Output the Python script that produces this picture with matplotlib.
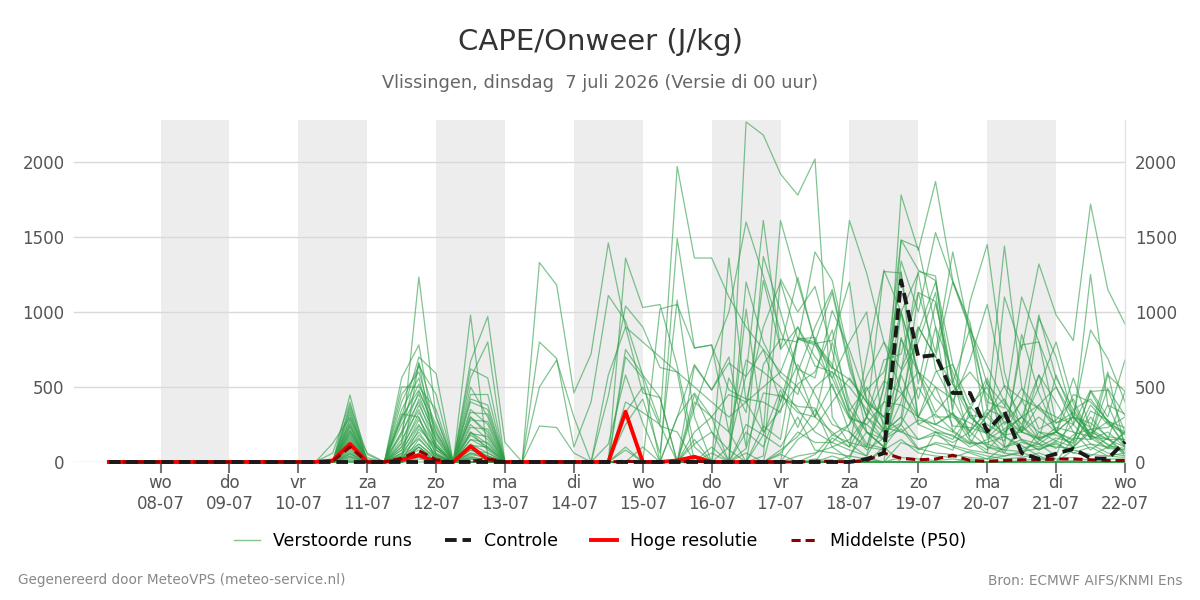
import matplotlib
matplotlib.use("Agg")
import matplotlib.pyplot as plt
from matplotlib.lines import Line2D
import pandas as pd

# 6-hourly steps, 7 Jul 06 UTC .. 22 Jul 00 UTC
times = pd.date_range("2026-07-07 06:00", periods=60, freq="6h")

tick_days = pd.date_range("2026-07-08", "2026-07-22", freq="D")
day_names = ["wo", "do", "vr", "za", "zo", "ma", "di", "wo", "do", "vr", "za", "zo", "ma", "di", "wo"]
day_dates = ["08-07", "09-07", "10-07", "11-07", "12-07", "13-07", "14-07", "15-07",
             "16-07", "17-07", "18-07", "19-07", "20-07", "21-07", "22-07"]
shade_days = ["2026-07-08", "2026-07-10", "2026-07-12", "2026-07-14",
              "2026-07-16", "2026-07-18", "2026-07-20"]

control = [0, 0, 0, 0, 0, 0, 0, 0, 0, 0, 0, 0, 0,
           0, 0, 0, 0, 0, 0, 0, 0, 0, 0, 0, 0,
           0, 0, 0, 0, 0, 0, 0, 0, 0, 0, 0, 0,
           0, 0, 0, 0, 0, 0, 0, 20, 60, 1210, 700, 713,
           460, 460, 205, 335, 60, 20, 55, 88, 25, 22, 135]

hres = [0, 0, 0, 0, 0, 0, 0, 0, 0, 0, 0, 0, 0,
        10, 120, 0, 0, 15, 45, 0, 0, 105, 15, 0, 0,
        0, 0, 0, 0, 0, 335, 0, 0, 10, 35, 0, 0,
        0, 0, 0]

p50 = [0, 0, 0, 0, 0, 0, 0, 0, 0, 0, 0, 0, 0,
       5, 100, 0, 0, 25, 75, 15, 0, 5, 20, 0, 0,
       0, 0, 0, 0, 0, 5, 0, 0, 0, 5, 0, 0,
       0, 0, 0, 0, 5, 5, 0, 10, 60, 25, 15, 20,
       45, 10, 5, 10, 15, 15, 20, 20, 15, 10, 10]

runs = [
    [0,0,0,0,0,0,0,0,0,0,0,0,0, 0,447,0,0,120,1233,300,0,200,80,0,0, 0,0,0,0,120,580,260,0,0,450,200,0, 2267,2180,1920,1780,2020,300,120,40,500,1480,1430,900, 600,320,180,60,240,120,40,350,180,90,200],
    [0,0,0,0,0,0,0,0,0,0,0,0,0, 60,400,0,0,560,780,120,0,980,40,0,0, 1330,1180,460,720,1460,900,460,430,0,120,200,80, 0,240,150,820,790,810,1200,400,300,600,1270,1240, 320,140,60,1100,750,1320,980,810,1720,1150,920],
    [0,0,0,0,0,0,0,0,0,0,0,0,0, 0,380,50,0,300,700,590,0,670,970,130,0, 0,0,0,0,0,1360,1030,1050,640,100,0,1360, 400,900,1200,820,780,620,1610,1260,800,620,900,700, 1200,930,350,1440,500,220,280,420,160,580,470],
    [0,0,0,0,0,0,0,0,0,0,0,0,0, 0,340,0,0,200,660,300,0,620,560,0,0, 800,690,100,400,1110,940,580,260,1970,1360,1360,1100, 900,750,600,500,300,200,100,700,1270,1260,520,1060, 560,150,80,200,300,580,200,100,340,280,180],
    [0,0,0,0,0,0,0,0,0,0,0,0,0, 125,300,60,0,450,600,200,0,500,300,0,0, 240,230,60,0,0,0,0,0,1490,760,780,200, 0,650,820,800,1400,1210,700,200,100,1780,1410,1870, 1210,900,520,380,200,960,700,300,880,690,400],
    [0,0,0,0,0,0,0,0,0,0,0,0,0, 0,280,0,0,350,560,100,0,400,350,0,0, 500,680,300,0,440,1040,900,630,600,0,0,100, 580,1610,750,900,640,600,300,100,400,1000,1260,620, 400,680,1050,500,300,150,200,300,180,120,60],
    [0,0,0,0,0,0,0,0,0,0,0,0,0, 0,250,0,0,300,480,200,0,350,250,0,0, 0,0,0,0,0,700,560,0,300,650,480,700, 100,1370,1000,600,300,800,400,200,100,600,800,1130, 350,1070,1450,600,200,300,200,450,400,280,100],
    [0,0,0,0,0,0,0,0,0,0,0,0,0, 0,230,0,0,250,450,150,0,300,200,0,0, 0,0,0,0,0,330,500,240,200,0,0,0, 1020,200,1610,1200,800,650,340,500,250,1340,1000,1530, 1200,880,640,400,250,500,800,390,150,200,100],
    [0,0,0,0,0,0,0,0,0,0,0,0,0, 0,200,30,0,200,400,100,0,300,180,0,0, 0,0,0,0,0,250,420,60,1080,300,0,560, 330,1210,760,1230,800,500,290,250,150,1480,1280,1210, 650,300,200,320,140,80,140,250,120,60,40],
    [0,0,0,0,0,0,0,0,0,0,0,0,0, 0,180,0,0,150,350,80,0,250,150,0,0, 0,0,0,0,0,0,0,0,0,640,480,660, 570,750,400,820,830,560,800,1000,200,300,1130,730, 1400,850,400,360,1100,800,500,250,1250,380,320],
    [0,0,0,0,0,0,0,0,0,0,0,0,0, 0,160,0,0,100,300,50,0,200,120,0,0, 0,0,0,0,0,400,330,250,0,0,0,0, 90,460,440,370,360,100,150,300,680,720,1130,1070, 530,890,160,270,200,380,500,300,160,490,310],
    [0,0,0,0,0,0,0,0,0,0,0,0,0, 0,140,0,0,80,250,60,0,180,100,0,0, 0,0,0,0,0,0,0,0,0,200,300,450, 400,200,350,520,600,880,350,200,150,400,900,700, 520,350,560,250,400,980,560,350,420,270,120],
    [0,0,0,0,0,0,0,0,0,0,0,0,0, 0,120,0,0,60,200,40,0,150,90,0,0, 0,0,0,0,0,0,0,0,0,0,100,0, 0,40,1220,1000,1170,740,320,120,90,1000,600,500, 240,230,190,140,780,800,260,300,230,600,90],
    [0,0,0,0,0,0,0,0,0,0,0,0,0, 0,100,0,0,50,160,30,0,120,60,0,0, 0,0,0,0,0,0,0,0,0,0,0,0, 60,0,450,330,300,520,200,80,160,250,500,300, 300,200,540,100,130,100,160,130,470,260,200],
    [0,0,0,0,0,0,0,0,0,0,0,0,0, 0,90,0,0,40,120,20,0,100,40,0,0, 0,0,0,0,0,80,0,0,0,150,0,0, 0,180,480,230,500,600,500,350,220,830,420,900, 200,370,250,180,200,580,400,200,170,150,150],
    [0,0,0,0,0,0,0,0,0,0,0,0,0, 0,80,0,0,30,100,0,0,80,30,0,0, 0,0,0,0,0,0,0,0,0,0,0,0, 0,0,0,0,50,180,250,480,600,1000,300,220, 170,120,320,420,200,160,200,560,220,230,300],
    [0,0,0,0,0,0,0,0,0,0,0,0,0, 0,60,0,0,20,80,0,0,60,20,0,0, 0,0,0,0,0,0,0,0,0,0,0,0, 0,0,80,170,350,180,130,100,80,580,300,250, 320,210,330,170,110,40,0,160,150,380,130],
    [0,0,0,0,0,0,0,0,0,0,0,0,0, 0,50,0,0,0,40,0,0,40,0,0,0, 0,0,0,0,0,0,0,0,0,0,0,0, 0,0,60,200,130,130,80,40,230,200,150,180, 130,200,100,80,70,140,230,200,80,160,60],
    [0,0,0,0,0,0,0,0,0,0,0,0,0, 0,40,0,0,0,30,0,0,30,0,0,0, 0,0,0,0,0,0,0,0,0,0,0,0, 0,0,0,0,0,0,40,20,0,130,90,60, 50,30,20,40,60,30,0,80,50,40,30],
    [0,0,0,0,0,0,0,0,0,0,0,0,0, 0,30,0,0,0,20,0,0,20,0,0,0, 0,0,0,0,0,0,0,0,0,0,0,0, 0,0,0,0,20,0,0,0,0,30,20,10, 20,10,0,0,10,20,0,10,0,0,0],
    [0,0,0,0,8,0,0,0,0,5,0,0,0, 0,320,0,0,400,640,450,0,560,800,0,0, 0,0,0,0,0,750,580,430,0,400,300,0, 1200,800,570,450,800,1130,620,300,1280,1000,600,330, 470,600,450,300,200,150,580,300,160,90,80],
    [0,0,0,0,0,0,0,0,0,0,0,0,0, 0,260,0,0,500,500,350,0,450,450,0,0, 0,0,0,0,0,0,0,0,0,360,700,1000, 1600,1240,870,620,560,1010,750,420,300,450,600,250, 330,170,310,510,420,360,300,250,480,300,680],
    [0,0,0,0,0,0,0,0,0,0,0,0,0, 0,210,0,0,280,520,250,0,420,380,0,0, 0,0,0,0,0,0,0,0,0,0,0,0, 0,0,0,600,900,1150,650,300,200,260,870,1200, 520,300,200,100,850,460,200,140,470,480,200],
    [0,0,0,0,0,0,0,0,0,0,0,0,0, 0,190,0,0,180,470,230,0,330,320,0,0, 0,0,0,0,0,0,0,0,0,0,60,0, 0,0,0,0,0,160,100,300,540,460,300,600, 650,380,500,200,300,380,210,100,220,150,470],
    [0,0,0,0,0,0,0,0,0,0,0,0,0, 0,170,0,0,130,420,180,0,280,270,0,0, 0,0,0,0,0,0,0,0,0,0,0,0, 0,0,0,0,0,0,0,0,0,820,600,420, 310,260,190,300,490,350,260,330,190,270,230],
    [0,0,0,0,0,0,0,0,0,0,0,0,0, 0,150,0,0,100,380,160,0,230,220,0,0, 0,0,0,0,0,0,0,0,0,0,0,0, 200,100,400,650,450,250,200,100,500,1270,250,320, 210,130,120,80,240,150,90,180,220,110,90],
    [0,0,0,0,0,0,0,0,0,0,0,0,0, 0,110,0,0,80,330,120,0,190,170,0,0, 0,0,0,0,0,100,0,0,0,0,0,0, 0,0,0,150,230,400,560,400,300,200,280,250, 200,120,130,170,90,120,200,150,380,250,190],
    [0,0,0,0,0,0,0,0,0,0,0,0,0, 0,70,0,0,60,280,100,0,150,130,0,0, 0,0,0,0,0,0,0,0,0,0,0,0, 0,0,0,40,60,100,20,300,150,220,80,130, 110,80,60,40,70,90,120,60,100,40,60],
    [0,0,0,0,0,0,0,0,0,0,0,0,0, 0,55,0,0,40,240,80,0,110,100,0,0, 0,0,0,0,0,0,0,0,0,0,0,0, 0,0,0,0,0,0,0,0,0,0,0,0, 0,0,0,0,0,0,0,0,0,0,0],
    [0,0,0,0,0,0,0,0,0,0,0,0,0, 0,35,0,0,20,180,50,0,80,60,0,0, 0,0,0,0,0,0,0,0,0,0,0,0, 0,0,0,0,0,40,0,0,80,150,60,40, 30,70,40,20,30,60,20,30,10,20,20],
    [0,0,0,0,0,0,0,0,0,0,0,0,0, 0,20,0,0,0,150,40,0,60,40,0,0, 0,0,0,0,580,900,800,700,600,500,400,300, 400,500,600,900,700,560,300,250,400,380,300,500, 420,200,350,300,150,120,100,90,120,100,80],
    [0,0,0,0,0,0,0,0,0,0,0,0,0, 0,10,0,0,0,120,30,0,50,30,0,0, 0,0,0,0,0,0,0,1020,1050,760,780,480, 420,400,330,830,800,630,550,400,200,300,150,200, 180,100,150,220,300,200,140,100,200,150,100],
    [0,0,0,0,0,0,0,0,0,0,0,0,0, 0,0,0,0,0,100,20,0,30,20,0,0, 0,0,0,0,0,0,0,0,0,0,0,0, 0,0,0,0,0,0,0,0,0,0,0,0, 0,0,0,0,0,0,0,0,0,0,0],
    [0,0,0,0,0,0,0,0,0,0,0,0,0, 0,0,0,0,0,60,0,0,20,0,0,0, 0,0,0,0,0,0,100,0,0,0,0,0, 0,0,0,0,0,0,0,30,0,0,0,0, 0,0,0,0,0,0,0,0,0,0,0],
    [0,0,0,0,0,0,0,0,0,0,0,0,0, 0,0,0,0,0,40,0,0,0,0,0,0, 0,0,0,0,0,0,0,0,0,0,0,0, 0,0,0,0,0,0,0,0,0,0,0,0, 0,20,0,0,0,0,0,0,0,0,0],
    [0,0,0,0,0,0,0,0,0,0,0,0,0, 0,240,0,0,320,300,0,0,0,0,0,0, 0,0,0,0,0,0,0,0,300,460,300,200, 680,600,500,350,200,130,250,570,800,480,250,200, 150,310,300,180,420,160,200,300,260,170,150],
    [0,0,0,0,0,0,0,0,0,0,0,0,0, 0,130,0,0,0,660,50,0,0,0,0,0, 0,0,0,0,0,0,0,0,0,0,0,0, 250,180,100,300,80,60,40,200,100,250,90,120, 80,340,100,60,40,200,180,120,300,160,40],
    [0,0,0,0,0,0,0,0,0,0,0,0,0, 0,360,0,0,0,220,100,0,0,0,0,0, 0,0,0,0,0,0,0,0,0,0,0,0, 0,0,0,0,0,0,0,0,0,0,0,200, 100,60,20,100,150,80,130,60,40,100,200],
    [0,0,0,0,0,0,0,0,0,0,0,0,0, 0,290,20,0,0,0,0,0,0,0,0,0, 0,0,0,0,0,0,0,0,0,0,0,0, 0,0,50,0,0,0,0,0,100,0,0,0, 0,0,0,0,0,0,0,0,0,0,0],
    [0,0,0,0,0,0,0,0,0,0,0,0,0, 0,210,0,0,0,100,0,0,0,0,0,0, 0,0,0,0,0,0,0,0,0,0,0,0, 0,0,0,0,0,0,0,0,0,0,0,0, 0,0,0,0,0,0,0,0,0,0,0],
]

fig = plt.figure(figsize=(12, 6), dpi=100)
ax = fig.add_axes([0.062, 0.23, 0.8755, 0.57])

for d in shade_days:
    start = pd.Timestamp(d)
    ax.axvspan(start, start + pd.Timedelta(days=1), color="#ededed", lw=0, zorder=0)

ax.grid(axis="y", color="#d9d9d9", lw=1, zorder=0.5)
ax.grid(axis="x", visible=False)

for r in runs:
    ax.plot(times, r, color="#2e9e48", alpha=0.6, lw=0.9, zorder=2, clip_on=False)
ax.plot(times[:len(hres)], hres, color="#ff0000", lw=2.8, zorder=4, clip_on=False)
ax.plot(times, p50, color="#8b0000", lw=2.2, dashes=(3, 1.6), zorder=5, clip_on=False)
ax.plot(times, control, color="#1a1a1a", lw=2.8, dashes=(3, 1.5), zorder=6, clip_on=False)

ax.set_xlim(pd.Timestamp("2026-07-06 18:00"), pd.Timestamp("2026-07-22 00:00"))
ax.set_ylim(0, 2280)
ax.set_yticks([0, 500, 1000, 1500, 2000])
ax.set_xticks(tick_days)
ax.set_xticklabels([n + "\n" + d for n, d in zip(day_names, day_dates)])

ax.tick_params(axis="x", length=8, width=1.5, color="#777777", labelsize=12,
               labelcolor="#555555", pad=1)
ax.tick_params(axis="y", length=0, labelsize=12, labelcolor="#555555",
               labelleft=True, labelright=True, pad=7)

for s in ["left", "top", "bottom"]:
    ax.spines[s].set_visible(False)
ax.spines["right"].set_color("#e3e3e3")
ax.spines["right"].set_linewidth(1)

fig.text(0.5, 1 - 42 / 600, "CAPE/Onweer (J/kg)", ha="center", va="center",
         fontsize=21, color="#333333")
fig.text(0.5, 1 - 83 / 600, "Vlissingen, dinsdag  7 juli 2026 (Versie di 00 uur)",
         ha="center", va="center", fontsize=12.8, color="#666666")

handles = [
    Line2D([], [], color="#2e9e48", alpha=0.6, lw=1),
    Line2D([], [], color="#1a1a1a", lw=2.8, dashes=(3, 1.5)),
    Line2D([], [], color="#ff0000", lw=2.8),
    Line2D([], [], color="#8b0000", lw=2.2, dashes=(3, 1.6)),
]
labels = ["Verstoorde runs", "Controle", "Hoge resolutie", "Middelste (P50)"]
fig.legend(handles, labels, loc="center", bbox_to_anchor=(0.5, 1 - 541 / 600), ncol=4,
           frameon=False, fontsize=12.5, handlelength=1.5, handletextpad=0.75,
           columnspacing=1.9)

fig.text(0.015, 1 - 580 / 600, "Gegenereerd door MeteoVPS (meteo-service.nl)",
         ha="left", va="center", fontsize=9.8, color="#888888")
fig.text(0.985, 1 - 580 / 600, "Bron: ECMWF AIFS/KNMI Ens",
         ha="right", va="center", fontsize=9.8, color="#888888")

fig.savefig("out.png", dpi=100)
